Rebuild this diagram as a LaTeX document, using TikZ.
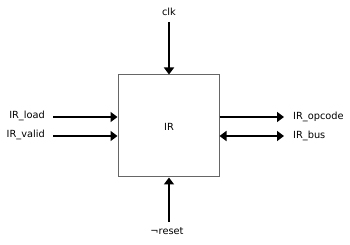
\documentclass[tikz,border=0pt]{standalone}
\usepackage{fontspec}
\setmainfont{DejaVu Sans}
\usetikzlibrary{arrows.meta}
\begin{document}
\begin{tikzpicture}[x=1pt,y=-1pt,
  lbl/.style={font=\fontsize{9.8}{11}\selectfont, inner sep=0pt, text=black},
  tip/.style={Triangle[length=7pt,width=10pt]},
  sig/.style={line width=2.2pt, -{Triangle[length=7pt,width=10pt]}},
  bus/.style={line width=2.2pt, {Triangle[length=7pt,width=10pt]}-{Triangle[length=7pt,width=10pt]}},
  block/.style={draw=black!60, line width=1pt, fill=white, minimum width=101pt, minimum height=102pt, inner sep=0pt}]
  \useasboundingbox (0,0) rectangle (350,245);
  % register block
  \node[block] (ir) at (168.5,126) {};
  \node[lbl] (irt) at (169,127) {IR};
  % clock input from above
  \node[lbl] (clk) at (169,12) {clk};
  \coordinate (clks) at (169,22);
  \draw[sig] (clks) -- (ir.north -| clks);
  % reset input from below
  \node[lbl] (rst) at (167,231) {¬reset};
  \coordinate (rsts) at (169,222);
  \draw[sig] (rsts) -- (ir.south -| rsts);
  % left-side inputs
  \node[lbl, anchor=east] (load) at (45,115.5) {IR\_load};
  \node[lbl, anchor=east] (valid) at (45,135) {IR\_valid};
  \coordinate (loads) at (53,117);
  \coordinate (valids) at (53,136);
  \draw[sig] (loads) -- (ir.west |- loads);
  \draw[sig] (valids) -- (ir.west |- valids);
  % right-side outputs
  \node[lbl, anchor=west] (opc) at (293,117) {IR\_opcode};
  \node[lbl, anchor=west] (busl) at (293,135.5) {IR\_bus};
  \coordinate (opce) at (284,117);
  \coordinate (buse) at (284,136);
  \draw[sig] (ir.east |- opce) -- (opce);
  \draw[bus] (ir.east |- buse) -- (buse);
\end{tikzpicture}
\end{document}
